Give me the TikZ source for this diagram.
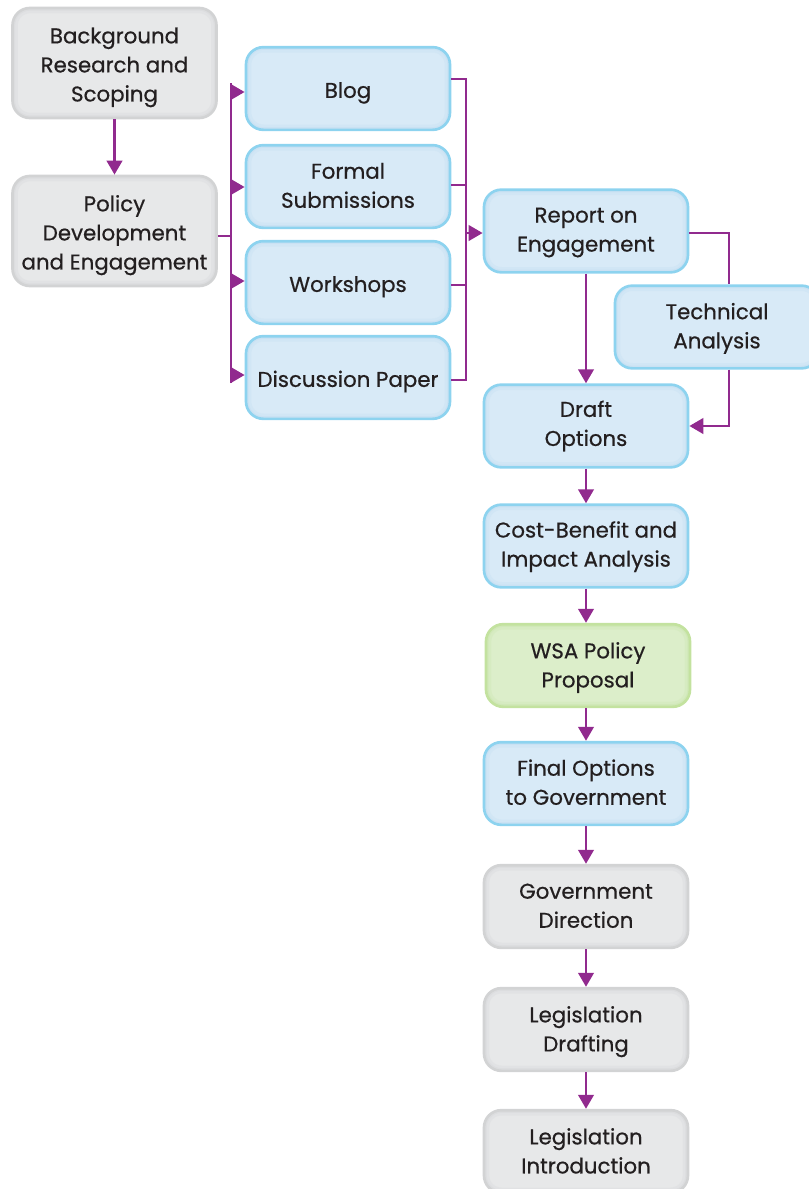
\documentclass[tikz,border=0pt]{standalone}
\usepackage{fontspec}
\setmainfont{Poppins}[FakeBold=0.6]
\usetikzlibrary{arrows.meta}
\definecolor{pur}{HTML}{912A8E}
\definecolor{bluefill}{HTML}{D8EAF7}
\definecolor{blueline}{HTML}{8DD3EF}
\definecolor{blueglow}{HTML}{C2DDF1}
\definecolor{grayfill}{HTML}{E7E8E9}
\definecolor{grayline}{HTML}{D2D3D4}
\definecolor{grayglow}{HTML}{D6D7D9}
\definecolor{greenfill}{HTML}{DCEECA}
\definecolor{greenline}{HTML}{C3E29F}
\definecolor{greenglow}{HTML}{CAE5AE}
\definecolor{txt}{HTML}{231F20}
\newcommand{\tx}[2][-7pt]{\raisebox{#1}[0pt][0pt]{\begin{tabular}{@{}c@{}}#2\end{tabular}}}
\tikzset{
  box/.style={rounded corners=13pt, line width=2pt, minimum width=153pt, minimum height=62pt,
    align=center, text=txt, font=\fontsize{16}{21.8}\selectfont, inner sep=0pt},
  glow/.style={path picture={
    \draw[#1, line width=8pt, opacity=0.3, rounded corners=13pt]
      (path picture bounding box.south west) rectangle (path picture bounding box.north east);
    \draw[#1, line width=4pt, opacity=0.45, rounded corners=13pt]
      (path picture bounding box.south west) rectangle (path picture bounding box.north east);}},
  bluebox/.style={box, draw=blueline, fill=bluefill, glow=blueglow},
  graybox/.style={box, draw=grayline, fill=grayfill, glow=grayglow},
  greenbox/.style={box, draw=greenline, fill=greenfill, glow=greenglow},
  conn/.style={draw=pur, line width=2.2pt},
  arr/.style={conn, -{Triangle[length=10.5pt,width=11.5pt]}}
}
\begin{document}
\begin{tikzpicture}[x=0.75pt,y=-0.75pt]
\useasboundingbox (0,0) rectangle (808,1189);
\node[graybox, minimum height=82.5pt] (bg) at (114.5,63) {\tx{Background\\Research and\\Scoping}};
\node[graybox, minimum height=82.5pt] (pd) at (114.5,231) {\tx{Policy\\Development\\and Engagement}};
\node[bluebox] (blog) at (348,88.5) {\tx{Blog}};
\node[bluebox] (formal) at (348,186.5) {\tx[-5pt]{Formal\\Submissions}};
\node[bluebox] (work) at (348,282.5) {\tx{Workshops}};
\node[bluebox] (disc) at (348,377.5) {\tx{Discussion Paper}};
\node[bluebox] (rep) at (586,231) {\tx[-4.5pt]{Report on\\Engagement}};
\node[bluebox] (tech) at (717,327) {\tx[-5pt]{Technical\\Analysis}};
\node[bluebox] (draft) at (586,426) {\tx[-4pt]{Draft\\Options}};
\node[bluebox] (cba) at (586,546) {\tx[-4.5pt]{Cost-Benefit and\\Impact Analysis}};
\node[greenbox] (wsa) at (588,665.5) {\tx[-5.5pt]{WSA Policy\\Proposal}};
\node[bluebox] (final) at (586,783.5) {\tx[-5pt]{Final Options\\to Government}};
\node[graybox] (gov) at (586,906.5) {\tx[-5pt]{Government\\Direction}};
\node[graybox] (ld) at (586,1029.5) {\tx[-5.5pt]{Legislation\\Drafting}};
\node[graybox] (li) at (586,1151.5) {\tx[-5.5pt]{Legislation\\Introduction}};
% coordinates
\coordinate (lbtop) at (231,83);
\coordinate (lbbot) at (231,383);
\coordinate (rbtop) at (466,79);
\coordinate (rbbot) at (466,380);
\coordinate (tr) at (729,233);
\coordinate (br) at (729,426);
% connectors
\draw[arr] (bg.south) -- (pd.north);
\draw[conn] (pd.east |- 0,236) -- (231,236);
\draw[conn] (lbtop) -- (lbbot);
\draw[arr] (231,92) -- (blog.west |- 0,92);
\draw[arr] (231,187) -- (formal.west |- 0,187);
\draw[arr] (231,281) -- (work.west |- 0,281);
\draw[arr] (231,375) -- (disc.west |- 0,375);
\draw[conn] (blog.east |- rbtop) -- (rbtop) -- (rbbot) -- (disc.east |- rbbot);
\draw[conn] (formal.east |- 0,185) -- (466,185);
\draw[conn] (work.east |- 0,285) -- (466,285);
\draw[arr] (466,233) -- (rep.west |- 0,233);
\draw[conn] (rep.east |- tr) -- (tr) -- (tech.north -| tr);
\draw[arr] (tech.south -| br) -- (br) -- (draft.east |- br);
\draw[arr] (rep.south) -- (draft.north);
\draw[arr] (draft.south) -- (cba.north);
\draw[arr] (cba.south) -- (cba.south |- wsa.north);
\draw[arr] (wsa.south -| final.south) -- (final.north);
\draw[arr] (final.south) -- (gov.north);
\draw[arr] (gov.south) -- (ld.north);
\draw[arr] (ld.south) -- (li.north);
\end{tikzpicture}
\end{document}
